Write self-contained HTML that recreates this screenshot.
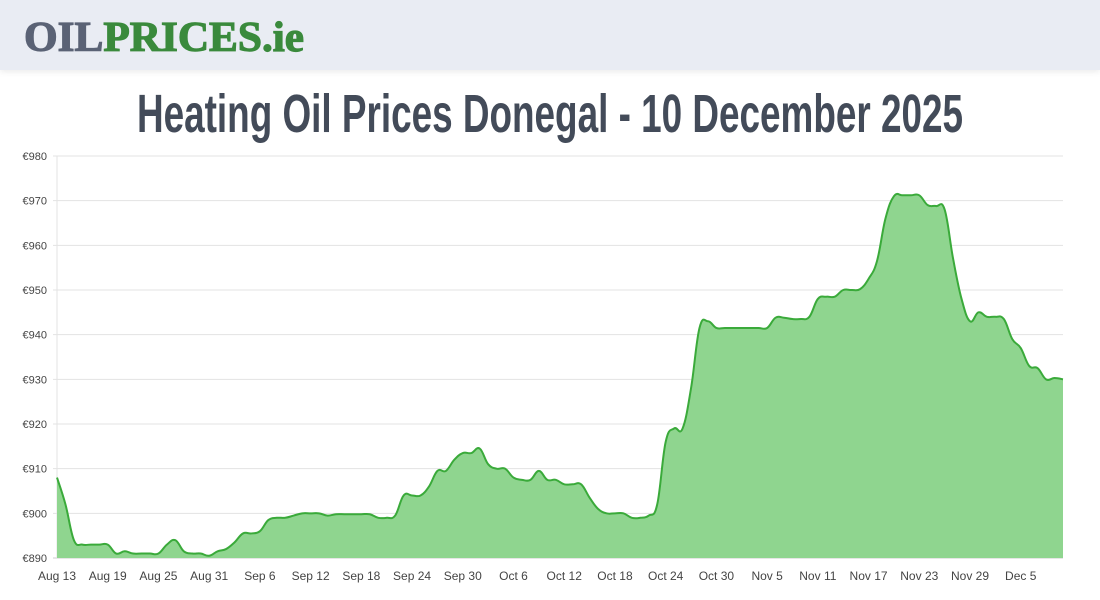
<!DOCTYPE html>
<html><head><meta charset="utf-8"><style>
body{margin:0;width:1100px;height:600px;background:#fff;overflow:hidden;font-family:"Liberation Sans",sans-serif}
#hdr{position:absolute;left:0;top:0;width:1100px;height:70px;background:#e9ecf3;box-shadow:0 2px 6px rgba(0,0,0,.08)}
svg{position:absolute;left:0;top:0}
</style></head><body>
<div id="hdr"></div>
<svg id="chart" width="1100" height="600">
<text x="24" y="51" textLength="280" lengthAdjust="spacingAndGlyphs" font-family="Liberation Serif, serif" font-weight="bold" font-size="42" stroke-width="1.2"><tspan fill="#5a6275" stroke="#5a6275">OIL</tspan><tspan fill="#3a8a3c" stroke="#3a8a3c">PRICES.ie</tspan></text>
<text x="137" y="132" textLength="826" lengthAdjust="spacingAndGlyphs" font-family="Liberation Sans, sans-serif" font-weight="bold" font-size="54" fill="#434b59">Heating Oil Prices Donegal - 10 December 2025</text>
</svg>
<script>
const tickValues=[890,900,910,920,930,940,950,960,970,980];
const xLabels=["Aug 13","Aug 19","Aug 25","Aug 31","Sep 6","Sep 12","Sep 18","Sep 24","Sep 30","Oct 6","Oct 12","Oct 18","Oct 24","Oct 30","Nov 5","Nov 11","Nov 17","Nov 23","Nov 29","Dec 5"];
const prices=[908,902,894,893,893,893,893,891,891.5,891,891,891,891,893,894,891.5,891,891,890.5,891.5,892,893.5,895.5,895.5,896,898.5,899,899,899.5,900,900,900,899.5,899.8,899.8,899.8,899.8,899.8,899,899,899.5,904,904,904,906,909.5,909.5,912,913.5,913.5,914.5,911,910,910,908,907.5,907.5,909.5,907.5,907.5,906.5,906.5,906.5,903.5,901,900,900,900,899,899,899.5,902,916,919,919,928,941.5,943,941.5,941.5,941.5,941.5,941.5,941.5,941.5,943.8,943.8,943.5,943.5,944,948,948.5,948.5,950,950,950.2,952.5,956.5,966,971,971.2,971.2,971.2,969,968.8,968,957,948,943,945,944,944,943.5,939,937,933,932.5,930,930.3,930];
const X0=57,X1=1063,Y0=558,Y1=156,VMIN=890,VMAX=980;
const xs=i=>X0+i*(X1-X0)/(prices.length-1);
const ys=v=>Y0-(v-VMIN)/(VMAX-VMIN)*(Y0-Y1);
const svg=document.getElementById('chart');const NS='http://www.w3.org/2000/svg';
function mk(t,a){const e=document.createElementNS(NS,t);for(const k in a)e.setAttribute(k,a[k]);svg.appendChild(e);return e;}
tickValues.forEach(v=>{
 const g=mk('line',{x1:X0-4,x2:X1,y1:ys(v),y2:ys(v),stroke:v===VMIN?'#ccc':'#e3e3e3','stroke-width':1});
 
 
 const t=mk('text',{x:X0-10,y:ys(v)+4,'text-anchor':'end','font-size':11,fill:'#444'});t.textContent='€'+v;
 
 
});
const ax=mk('line',{x1:X0,x2:X0,y1:Y1,y2:Y0,stroke:'#e3e3e3'});


xLabels.forEach((l,i)=>{
 const t=mk('text',{x:xs(i*6),y:Y0+22,'text-anchor':'middle','font-size':12,fill:'#444'});t.textContent=l;
 
 
});
const pts=prices.map((v,i)=>[xs(i),ys(v)]);
let d='M'+pts[0][0]+','+pts[0][1];
for(let i=0;i<pts.length-1;i++){const p0=pts[i-1]||pts[i],p1=pts[i],p2=pts[i+1],p3=pts[i+2]||p2;const t=0.2;
 d+=' C'+(p1[0]+(p2[0]-p0[0])*t)+','+(p1[1]+(p2[1]-p0[1])*t)+' '+(p2[0]-(p3[0]-p1[0])*t)+','+(p2[1]-(p3[1]-p1[1])*t)+' '+p2[0]+','+p2[1];}
const area=mk('path',{d:d+' L'+X1+','+Y0+' L'+X0+','+Y0+' Z',fill:'#8fd58f'});


const line=mk('path',{d:d,fill:'none',stroke:'#3aaa3a','stroke-width':2});


</script>
</body></html>
